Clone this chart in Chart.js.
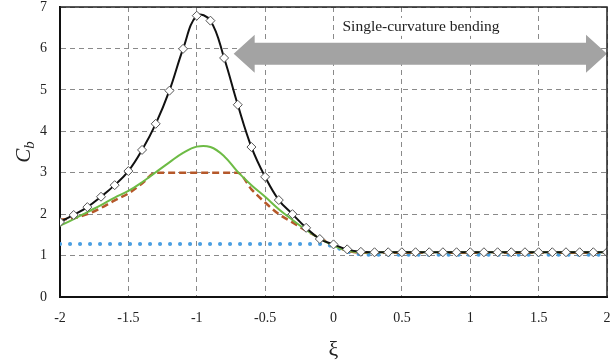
<!DOCTYPE html>
<html>
<head>
<meta charset="utf-8">
<script src="https://cdn.jsdelivr.net/npm/chart.js@4/dist/chart.umd.min.js"></script>
<style>
html,body{margin:0;padding:0;background:#fff;}
#wrap{width:616px;height:364px;}
</style>
</head>
<body>
<div id="wrap"><canvas id="c" width="616" height="364"></canvas></div>
<script>
const xi = [-2.0,-1.9,-1.8,-1.7,-1.6,-1.5,-1.4,-1.3,-1.2,-1.1,-1.0,-0.9,-0.8,-0.7,-0.6,-0.5,-0.4,-0.3,-0.2,-0.1,0.0,0.1,0.2,0.3,0.4,0.5,0.6,0.7,0.8,0.9,1.0,1.1,1.2,1.3,1.4,1.5,1.6,1.7,1.8,1.9,2.0];
const cbExact = [1.81,1.98,2.17,2.42,2.70,3.04,3.55,4.18,4.98,5.99,6.79,6.67,5.77,4.64,3.62,2.90,2.34,2.00,1.67,1.40,1.27,1.15,1.09,1.08,1.08,1.08,1.08,1.08,1.08,1.08,1.08,1.08,1.08,1.08,1.08,1.08,1.08,1.08,1.08,1.08,1.08];
const cbGreen = [1.72,1.88,2.05,2.22,2.40,2.56,2.77,3.01,3.25,3.48,3.63,3.62,3.40,3.02,2.70,2.42,2.12,1.86,1.62,1.41,1.24,1.12,1.08,1.08,1.08,1.08,1.08,1.08,1.08,1.08,1.08,1.08,1.08,1.08,1.08,1.08,1.08,1.08,1.08,1.08,1.08];
const cbBrown = [1.87,1.90,2.00,2.15,2.33,2.50,2.74,3.00,3.00,3.00,3.00,3.00,3.00,3.00,2.60,2.28,2.00,1.80,1.60,1.42,1.25,1.12,1.07,1.07,1.07,1.07,1.07,1.07,1.07,1.07,1.07,1.07,1.07,1.07,1.07,1.07,1.07,1.07,1.07,1.07,1.07];
const cbBlue = [1.28,1.28,1.28,1.28,1.28,1.28,1.28,1.28,1.28,1.28,1.28,1.28,1.28,1.28,1.28,1.28,1.28,1.28,1.28,1.28,1.22,1.10,1.03,1.02,1.02,1.02,1.02,1.02,1.02,1.02,1.02,1.02,1.02,1.02,1.02,1.02,1.02,1.02,1.02,1.02,1.02];
const xTicks = [-2,-1.5,-1,-0.5,0,0.5,1,1.5,2];
const yTicks = [0,1,2,3,4,5,6,7];
const arrowSpan = [-0.73, 2.0];
const arrowLevel = 5.87;
const arrowLabel = "Single-curvature bending";
const labelPos = [0.64, 6.52];

function pts(ys){ return xi.map((x,i)=>({x:x,y:ys[i]})); }

const serif = "'Liberation Serif','DejaVu Serif',serif";

const extras = {
  id:'extras',
  beforeDatasetsDraw(chart){
    const ctx = chart.ctx, xs = chart.scales.x, ys = chart.scales.y;
    const x1 = xs.getPixelForValue(arrowSpan[0]), x2 = xs.getPixelForValue(arrowSpan[1]);
    const yc = ys.getPixelForValue(arrowLevel);
    const hw = 11, hh = 19, hl = 21;
    ctx.save();
    ctx.fillStyle = '#a3a3a3';
    ctx.beginPath();
    ctx.moveTo(x1, yc);
    ctx.lineTo(x1+hl, yc-hh);
    ctx.lineTo(x1+hl, yc-hw);
    ctx.lineTo(x2-hl, yc-hw);
    ctx.lineTo(x2-hl, yc-hh);
    ctx.lineTo(x2, yc);
    ctx.lineTo(x2-hl, yc+hh);
    ctx.lineTo(x2-hl, yc+hw);
    ctx.lineTo(x1+hl, yc+hw);
    ctx.lineTo(x1+hl, yc+hh);
    ctx.closePath();
    ctx.fill();
    const lx = xs.getPixelForValue(labelPos[0]), ly = ys.getPixelForValue(labelPos[1]);
    ctx.font = "15.5px " + serif;
    ctx.textAlign = 'center'; ctx.textBaseline = 'middle';
    const w = ctx.measureText(arrowLabel).width;
    ctx.fillStyle = '#fff';
    ctx.fillRect(lx - w/2 - 3, ly - 9, w + 6, 18);
    ctx.fillStyle = '#222';
    ctx.fillText(arrowLabel, lx, ly);
    ctx.restore();
  },
  afterDraw(chart){
    const ctx = chart.ctx, a = chart.chartArea;
    ctx.save();
    ctx.strokeStyle = '#222'; ctx.lineWidth = 1.5;
    ctx.beginPath();
    ctx.moveTo(a.left, a.top); ctx.lineTo(a.right, a.top); ctx.lineTo(a.right, a.bottom);
    ctx.stroke();
    ctx.translate(24, 152);
    ctx.rotate(-Math.PI/2);
    ctx.fillStyle = '#222';
    ctx.textBaseline = 'alphabetic'; ctx.textAlign = 'left';
    ctx.font = "italic 21px " + serif;
    const cw = ctx.measureText('C').width;
    ctx.font = "italic 15px " + serif;
    const bw = ctx.measureText('b').width;
    const start = -(cw + bw)/2;
    ctx.font = "italic 21px " + serif;
    ctx.fillText('C', start, 6);
    ctx.font = "italic 15px " + serif;
    ctx.fillText('b', start + cw, 10);
    ctx.restore();
  }
};

new Chart(document.getElementById('c'), {
  type: 'line',
  data: {
    datasets: [
      {label:'exact', data: pts(cbExact), borderColor:'#111', borderWidth:2, pointStyle:'rectRot', pointRadius:4.5, pointBackgroundColor:'#fff', pointBorderColor:'#555', pointBorderWidth:1, tension:0.4, order:1},
      {label:'green', data: pts(cbGreen), borderColor:'#6dbb45', borderWidth:2, pointRadius:0, tension:0.4, order:2},
      {label:'brown', data: pts(cbBrown), borderColor:'#b5582a', borderWidth:2.5, borderDash:[7,4], pointRadius:0, cubicInterpolationMode:'monotone', order:3},
      {label:'blue', data: pts(cbBlue), borderColor:'#4b9fe1', borderWidth:4, borderDash:[0.1,9.9], borderCapStyle:'round', pointRadius:0, cubicInterpolationMode:'monotone', order:4}
    ]
  },
  options: {
    responsive:false, animation:false,
    layout:{padding:{left:0, top:7, right:9, bottom:0}},
    plugins:{legend:{display:false}, tooltip:{enabled:false}},
    scales:{
      x:{type:'linear', min:-2, max:2,
         afterFit(s){ s.height = 67; s.paddingLeft = 0; s.paddingRight = 0; },
         afterBuildTicks(s){ s.ticks = xTicks.map(v=>({value:v})); },
         ticks:{padding:13, color:'#222', font:{family:serif, size:14}, callback:v=>String(v)},
         grid:{color:'#8a8a8a', lineWidth:1, drawTicks:false},
         border:{color:'#111', width:2, dash:[5,4], display:true},
         title:{display:true, text:'ξ', color:'#222', font:{family:serif, size:22}, padding:{top:0,bottom:1}}
      },
      y:{type:'linear', min:0, max:7,
         afterFit(s){ s.width = 60; s.paddingTop = 0; s.paddingBottom = 0; },
         afterBuildTicks(s){ s.ticks = yTicks.map(v=>({value:v})); },
         ticks:{padding:13, color:'#222', font:{family:serif, size:14}},
         grid:{color:'#8a8a8a', lineWidth:1, drawTicks:false},
         border:{color:'#111', width:2, dash:[5,4], display:true}
      }
    }
  },
  plugins:[extras]
});
</script>
</body>
</html>
